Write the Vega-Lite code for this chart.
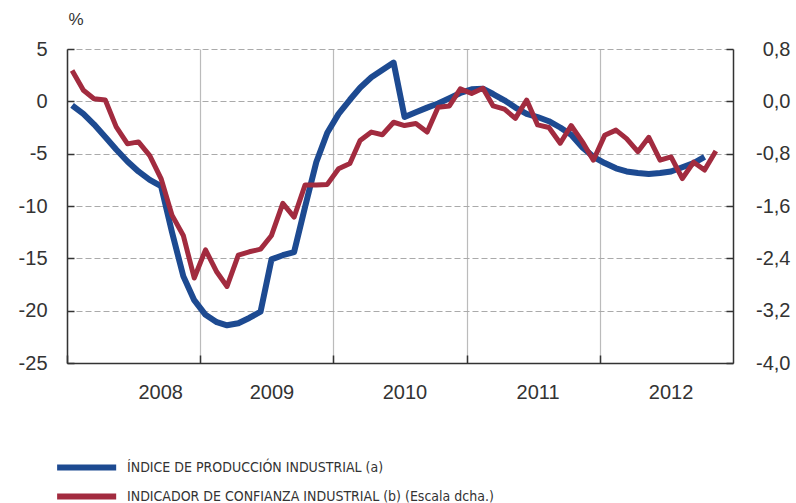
{
  "$schema": "https://vega.github.io/schema/vega-lite/v6.json",
  "width": 666,
  "height": 314,
  "autosize": {"type": "none"},
  "padding": {"left": 67, "top": 49, "right": 63, "bottom": 140},
  "background": "white",
  "config": {
    "view": {"stroke": null},
    "axis": {
      "labelFont": "Liberation Sans",
      "labelFontSize": 20,
      "labelColor": "#333333",
      "domainColor": "#333333",
      "domainWidth": 1.5,
      "tickColor": "#333333",
      "tickWidth": 1.5
    }
  },
  "data": {
    "values": [
      {"d":"2008-01-15","s":"a","v":-0.38},{"d":"2008-02-15","s":"a","v":-1.2},{"d":"2008-03-15","s":"a","v":-2.2},{"d":"2008-04-15","s":"a","v":-3.4},{"d":"2008-05-15","s":"a","v":-4.6},{"d":"2008-06-15","s":"a","v":-5.75},{"d":"2008-07-15","s":"a","v":-6.7},{"d":"2008-08-15","s":"a","v":-7.5},{"d":"2008-09-15","s":"a","v":-8.1},{"d":"2008-10-15","s":"a","v":-12.5},{"d":"2008-11-15","s":"a","v":-16.7},{"d":"2008-12-15","s":"a","v":-19.0},
      {"d":"2009-01-15","s":"a","v":-20.4},{"d":"2009-02-15","s":"a","v":-21.1},{"d":"2009-03-15","s":"a","v":-21.4},{"d":"2009-04-15","s":"a","v":-21.2},{"d":"2009-05-15","s":"a","v":-20.7},{"d":"2009-06-15","s":"a","v":-20.1},{"d":"2009-07-15","s":"a","v":-15.1},{"d":"2009-08-15","s":"a","v":-14.7},{"d":"2009-09-15","s":"a","v":-14.4},{"d":"2009-10-15","s":"a","v":-10.1},{"d":"2009-11-15","s":"a","v":-5.8},{"d":"2009-12-15","s":"a","v":-3.0},
      {"d":"2010-01-15","s":"a","v":-1.2},{"d":"2010-02-15","s":"a","v":0.15},{"d":"2010-03-15","s":"a","v":1.3},{"d":"2010-04-15","s":"a","v":2.3},{"d":"2010-05-15","s":"a","v":3.0},{"d":"2010-06-15","s":"a","v":3.7},{"d":"2010-07-15","s":"a","v":-1.5},{"d":"2010-08-15","s":"a","v":-1.05},{"d":"2010-09-15","s":"a","v":-0.6},{"d":"2010-10-15","s":"a","v":-0.2},{"d":"2010-11-15","s":"a","v":0.3},{"d":"2010-12-15","s":"a","v":0.8},
      {"d":"2011-01-15","s":"a","v":1.15},{"d":"2011-02-15","s":"a","v":1.2},{"d":"2011-03-15","s":"a","v":0.7},{"d":"2011-04-15","s":"a","v":0.1},{"d":"2011-05-15","s":"a","v":-0.6},{"d":"2011-06-15","s":"a","v":-1.2},{"d":"2011-07-15","s":"a","v":-1.5},{"d":"2011-08-15","s":"a","v":-1.9},{"d":"2011-09-15","s":"a","v":-2.5},{"d":"2011-10-15","s":"a","v":-3.2},{"d":"2011-11-15","s":"a","v":-4.4},{"d":"2011-12-15","s":"a","v":-5.3},
      {"d":"2012-01-15","s":"a","v":-5.9},{"d":"2012-02-15","s":"a","v":-6.4},{"d":"2012-03-15","s":"a","v":-6.7},{"d":"2012-04-15","s":"a","v":-6.85},{"d":"2012-05-15","s":"a","v":-6.95},{"d":"2012-06-15","s":"a","v":-6.85},{"d":"2012-07-15","s":"a","v":-6.7},{"d":"2012-08-15","s":"a","v":-6.3},{"d":"2012-09-15","s":"a","v":-5.9},{"d":"2012-10-15","s":"a","v":-5.3},
      {"d":"2008-01-15","s":"b","v":0.47},{"d":"2008-02-15","s":"b","v":0.17},{"d":"2008-03-15","s":"b","v":0.04},{"d":"2008-04-15","s":"b","v":0.02},{"d":"2008-05-15","s":"b","v":-0.39},{"d":"2008-06-15","s":"b","v":-0.65},{"d":"2008-07-15","s":"b","v":-0.62},{"d":"2008-08-15","s":"b","v":-0.83},{"d":"2008-09-15","s":"b","v":-1.18},{"d":"2008-10-15","s":"b","v":-1.74},{"d":"2008-11-15","s":"b","v":-2.05},{"d":"2008-12-15","s":"b","v":-2.7},
      {"d":"2009-01-15","s":"b","v":-2.27},{"d":"2009-02-15","s":"b","v":-2.61},{"d":"2009-03-15","s":"b","v":-2.83},{"d":"2009-04-15","s":"b","v":-2.35},{"d":"2009-05-15","s":"b","v":-2.3},{"d":"2009-06-15","s":"b","v":-2.26},{"d":"2009-07-15","s":"b","v":-2.05},{"d":"2009-08-15","s":"b","v":-1.56},{"d":"2009-09-15","s":"b","v":-1.77},{"d":"2009-10-15","s":"b","v":-1.28},{"d":"2009-11-15","s":"b","v":-1.28},{"d":"2009-12-15","s":"b","v":-1.27},
      {"d":"2010-01-15","s":"b","v":-1.03},{"d":"2010-02-15","s":"b","v":-0.95},{"d":"2010-03-15","s":"b","v":-0.6},{"d":"2010-04-15","s":"b","v":-0.47},{"d":"2010-05-15","s":"b","v":-0.51},{"d":"2010-06-15","s":"b","v":-0.32},{"d":"2010-07-15","s":"b","v":-0.37},{"d":"2010-08-15","s":"b","v":-0.34},{"d":"2010-09-15","s":"b","v":-0.47},{"d":"2010-10-15","s":"b","v":-0.09},{"d":"2010-11-15","s":"b","v":-0.07},{"d":"2010-12-15","s":"b","v":0.19},
      {"d":"2011-01-15","s":"b","v":0.12},{"d":"2011-02-15","s":"b","v":0.2},{"d":"2011-03-15","s":"b","v":-0.07},{"d":"2011-04-15","s":"b","v":-0.12},{"d":"2011-05-15","s":"b","v":-0.26},{"d":"2011-06-15","s":"b","v":0.02},{"d":"2011-07-15","s":"b","v":-0.36},{"d":"2011-08-15","s":"b","v":-0.4},{"d":"2011-09-15","s":"b","v":-0.64},{"d":"2011-10-15","s":"b","v":-0.37},{"d":"2011-11-15","s":"b","v":-0.62},{"d":"2011-12-15","s":"b","v":-0.9},
      {"d":"2012-01-15","s":"b","v":-0.52},{"d":"2012-02-15","s":"b","v":-0.44},{"d":"2012-03-15","s":"b","v":-0.57},{"d":"2012-04-15","s":"b","v":-0.77},{"d":"2012-05-15","s":"b","v":-0.55},{"d":"2012-06-15","s":"b","v":-0.9},{"d":"2012-07-15","s":"b","v":-0.85},{"d":"2012-08-15","s":"b","v":-1.18},{"d":"2012-09-15","s":"b","v":-0.93},{"d":"2012-10-15","s":"b","v":-1.05},{"d":"2012-11-15","s":"b","v":-0.76}
    ]
  },
  "encoding": {
    "x": {
      "field": "d",
      "type": "temporal",
      "scale": {"type": "utc", "domain": ["2008-01-01", "2013-01-01"]},
      "axis": {
        "title": null,
        "values": [{"year": 2008, "utc": true}, {"year": 2009, "utc": true}, {"year": 2010, "utc": true}, {"year": 2011, "utc": true}, {"year": 2012, "utc": true}],
        "format": "%Y",
        "formatType": "utc",
        "labelOffset": 71,
        "labelPadding": 37,
        "labelBaseline": "middle",
        "tickSize": -8,
        "grid": true,
        "gridColor": "#bbbbbb",
        "gridWidth": 1.2,
        "gridDash": []
      }
    }
  },
  "layer": [
    {
      "mark": {"type": "rule", "color": "#333333", "strokeWidth": 1.2},
      "encoding": {
        "y": {"datum": 0, "type": "quantitative", "scale": {"domain": [-25, 5]}, "axis": {
          "title": "%",
          "titleAngle": 0,
          "titleX": 1,
          "titleY": -25,
          "titleAlign": "left",
          "titleBaseline": "alphabetic",
          "titleFont": "Liberation Sans",
          "titleFontSize": 17,
          "titleFontWeight": "normal",
          "titleColor": "#333333",
          "values": [5, 0, -5, -10, -15, -20, -25],
          "labelExpr": "(datum.value < 0 ? '-' : '') + format(abs(datum.value), 'd')",
          "labelPadding": 27,
          "tickSize": -7,
          "grid": true,
          "gridColor": "#aaaaaa",
          "gridDash": [6, 3],
          "gridWidth": 1.2
        }}
      }
    },
    {
      "transform": [{"filter": "datum.s == 'a'"}],
      "mark": {"type": "line", "strokeWidth": 6, "strokeJoin": "round", "strokeCap": "butt"},
      "encoding": {
        "y": {"field": "v", "type": "quantitative", "scale": {"domain": [-25, 5]}, "axis": null},
        "color": {
          "field": "s",
          "type": "nominal",
          "scale": {"domain": ["a", "b"], "range": ["#1d4a91", "#a22b3f"]},
          "legend": {
            "title": null,
            "orient": "none",
            "legendX": -13,
            "legendY": 408,
            "direction": "vertical",
            "symbolType": "M-1,0L7,0",
            "symbolSize": 218,
            "symbolStrokeWidth": 6,
            "labelFont": "Liberation Sans Narrow, Arial Narrow, DejaVu Sans Condensed, Liberation Sans",
            "labelFontSize": 14,
            "labelColor": "#333333",
            "labelOffset": 52,
            "labelLimit": 600,
            "rowPadding": 4,
            "labelExpr": "datum.value == 'a' ? 'ÍNDICE DE PRODUCCIÓN INDUSTRIAL (a)' : 'INDICADOR DE CONFIANZA INDUSTRIAL (b) (Escala dcha.)'"
          }
        }
      }
    },
    {
      "transform": [{"filter": "datum.s == 'b'"}],
      "mark": {"type": "line", "strokeWidth": 5, "strokeJoin": "round", "strokeCap": "butt"},
      "encoding": {
        "y": {
          "field": "v",
          "type": "quantitative",
          "scale": {"domain": [-4, 0.8]},
          "axis": {
            "orient": "right",
            "title": null,
            "values": [0.8, 0, -0.8, -1.6, -2.4, -3.2, -4.0],
            "labelExpr": "(datum.value < 0 ? '-' : '') + replace(format(abs(datum.value), '.1f'), '.', ',')",
            "labelAlign": "right",
            "labelPadding": 64,
            "tickSize": -7,
            "grid": false
          }
        },
        "color": {"field": "s", "type": "nominal"}
      }
    }
  ],
  "resolve": {"scale": {"y": "independent"}}
}
